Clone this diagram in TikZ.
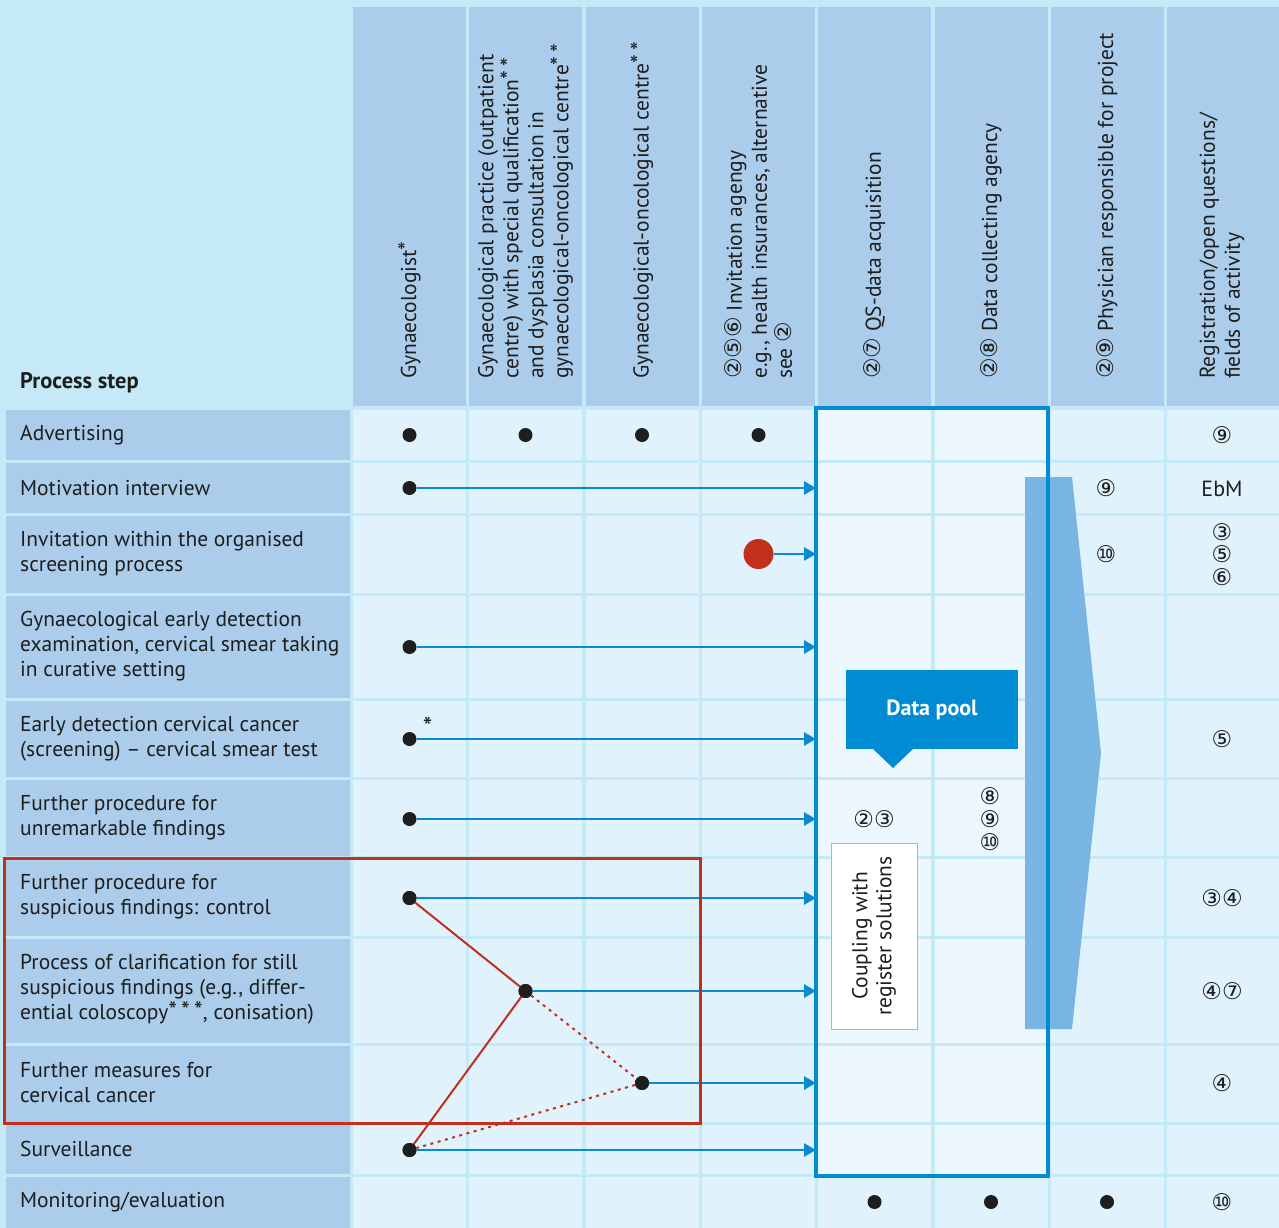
\documentclass[tikz,border=0pt]{standalone}
\usepackage{fontspec}
\setmainfont{PT Sans}
\newfontfamily\cfont{DejaVu Sans}
\usetikzlibrary{arrows.meta}
\definecolor{bgcyan}{HTML}{C6E9F8}
\definecolor{hdr}{HTML}{ABCDEB}
\definecolor{cellc}{HTML}{E0F2FC}
\definecolor{boxcell}{HTML}{EDF8FE}
\definecolor{boxblue}{HTML}{008BD2}
\definecolor{lineblue}{HTML}{0A8BD0}
\definecolor{redc}{HTML}{C0301C}
\definecolor{bigarr}{HTML}{79B5E3}
\definecolor{dark}{HTML}{1E1E1E}
\newcommand{\cn}[1]{{\cfont\fontsize{23}{23}\selectfont #1}}
\newcommand{\stars}[1]{{\fontsize{25}{25}\selectfont #1}}
\tikzset{
  hdrtxt/.style={rotate=90, anchor=west, align=left, inner sep=0pt, text=dark, font=\fontsize{21.5}{25}\selectfont},
  lbl/.style={anchor=west, align=left, inner sep=0pt, text=dark, font=\fontsize{21.5}{25}\selectfont},
  dot/.style={circle, fill=dark, inner sep=0pt, minimum size=14pt},
  reddot/.style={circle, fill=redc, inner sep=0pt, minimum size=30pt},
  arr/.style={draw=lineblue, line width=2.8pt, -{Triangle[length=12pt,width=13pt]}},
  redline/.style={draw=redc, line width=2pt},
  reddotted/.style={draw=redc, line width=2pt, dash pattern=on 3pt off 4.5pt},
  num/.style={inner sep=0pt, text=dark},
}
\begin{document}
\begin{tikzpicture}[x=1pt, y=-1pt]
\fill[bgcyan] (0,0) rectangle (1279,1228);
\useasboundingbox (0,0) rectangle (1279,1228);
% header cells
\foreach \i in {0,...,7} {
  \fill[hdr] ({353+116.3*\i},7) rectangle ({353+116.3*\i+113},406);
}
% rows
\foreach \t/\b in {410/460, 463/513, 516/593, 596/698, 701/777, 780/856, 859/936, 939/1043, 1046/1122, 1125/1174, 1177/1240} {
  \fill[hdr] (6,\t) rectangle (350,\b);
  \foreach \i in {0,...,7} {
    \fill[cellc] ({353+116.3*\i},\t) rectangle ({353+116.3*\i+113},\b);
  }
}
% box cells
\foreach \t/\b in {410/460, 463/513, 516/593, 596/698, 701/777, 780/856, 859/936, 939/1043, 1046/1122, 1125/1174} {
  \foreach \i in {4,5} {
    \fill[boxcell] ({353+116.3*\i},\t) rectangle ({353+116.3*\i+113},\b);
  }
}
\coordinate (bl) at (816,0);

% big arrow
\fill[bigarr] (1025,477) -- (1072,477) -- (1101,753) -- (1072,1029) -- (1025,1029) -- cycle;
% data box border
\draw[boxblue, line width=3.5pt] (816,408) rectangle (1048,1176);

% header texts
\node[font=\bfseries\fontsize{22.5}{25}\selectfont, text=dark, anchor=base west, inner sep=0pt] (ps) at (20,388) {Process step};
\node[hdrtxt] (h1) at (409.5,379) {Gynaecologist\stars{*}};
\node[hdrtxt] (h2) at (525.5,379) {Gynaecological practice (outpatient\\centre) with special qualification\stars{*\,*}\\and dysplasia consultation in\\gynaecological-oncological centre\stars{*\,*}};
\node[hdrtxt] (h3) at (642,379) {Gynaecological-oncological centre\stars{*\,*}};
\node[hdrtxt] (h4) at (758.5,379) {\cn{②⑤⑥} Invitation agengy\\e.g., health insurances, alternative\\see \cn{②}};
\node[hdrtxt] (h5) at (874.5,379) {\cn{②⑦} QS-data acquisition};
\node[hdrtxt] (h6) at (991,379) {\cn{②⑧} Data collecting agency};
\node[hdrtxt] (h7) at (1107,379) {\cn{②⑨} Physician responsible for project};
\node[hdrtxt] (h8) at (1222,379) {Registration/open questions/\\fields of activity};

% row labels
\node[lbl] (r1) at (20,435) {Advertising};
\node[lbl] (r2) at (20,488) {Motivation interview};
\node[lbl] (r3) at (20,554) {Invitation within the organised\\screening process};
\node[lbl] (r4) at (20,646) {Gynaecological early detection\\examination, cervical smear taking\\in curative setting};
\node[lbl] (r5) at (20,739) {Early detection cervical cancer\\(screening) -- cervical smear test};
\node[lbl] (r6) at (20,818) {Further procedure for\\unremarkable findings};
\node[lbl] (r7) at (20,897) {Further procedure for\\suspicious findings: control};
\node[lbl] (r8) at (20,989) {Process of clarification for still\\suspicious findings (e.g., differ-\\ential coloscopy\stars{*\,*\,*}, conisation)};
\node[lbl] (r9) at (20,1083) {Further measures for\\cervical cancer};
\node[lbl] (r10) at (20,1149) {Surveillance};
\node[lbl] (r11) at (20,1202) {Monitoring/evaluation};

% data pool
\node[fill=boxblue, minimum width=172pt, minimum height=79pt, inner sep=0pt, text=white, font=\bfseries\fontsize{22}{24}\selectfont] (pool) at (932,709.5) {Data pool};
\fill[boxblue] (872,748) -- (914,748) -- (893,768) -- cycle;

% coupling
\node[draw=hdr!80!boxblue, line width=1pt, fill=white, rotate=90, minimum width=186pt, minimum height=86pt, align=center, inner sep=0pt, text=dark, font=\fontsize{21.5}{24}\selectfont] (coup) at (874,936) {Coupling with\\register solutions};

% dots
\node[dot] (a1) at (409.5,435) {};
\node[dot] (a2) at (525.5,435) {};
\node[dot] (a3) at (642,435) {};
\node[dot] (a4) at (758.5,435) {};
\node[dot] (d2) at (409.5,488) {};
\node[reddot] (d3) at (758.5,554) {};
\node[dot] (d4) at (409.5,647) {};
\node[dot] (d5) at (409.5,739) {};
\node[dot] (d6) at (409.5,819) {};
\node[dot] (d7) at (409.5,898) {};
\node[dot] (d8) at (525.5,991) {};
\node[dot] (d9) at (642,1083) {};
\node[dot] (d10) at (409.5,1150) {};
\node[dot] (m1) at (874.5,1202) {};
\node[dot] (m2) at (991,1202) {};
\node[dot] (m3) at (1107,1202) {};
\node[num, anchor=base, font=\fontsize{27}{27}\selectfont] (ast) at (427.5,736) {*};

% blue arrows
\foreach \d in {d2,d3,d4,d5,d6,d7,d8,d9,d10} {
  \draw[arr] (\d) -- (\d -| bl);
}
% red lines
\draw[redline] (d7.center) -- (d8.center);
\draw[redline] (d8.center) -- (d10.center);
\draw[reddotted] (d8) -- (d9);
\draw[reddotted] (d9) -- (d10);
\foreach \d in {d7,d8,d9,d10} { \fill[dark] (\d) circle (7pt); }
% red frame
\draw[redc, line width=3pt] (4,858) rectangle (700,1123);

% circled numbers
\node[num] (n1) at (1222,435) {\cn{⑨}};
\node[num, font=\fontsize{22}{24}\selectfont] (n2) at (1222,489) {EbM};
\node[num] (n3a) at (1222,532) {\cn{③}};
\node[num] (n3b) at (1222,554) {\cn{⑤}};
\node[num] (n3c) at (1222,577) {\cn{⑥}};
\node[num] (n5) at (1222,739) {\cn{⑤}};
\node[num] (n7) at (1222,898) {\cn{③④}};
\node[num] (n8) at (1222,991) {\cn{④⑦}};
\node[num] (n9) at (1222,1083) {\cn{④}};
\node[num] (n11) at (1222,1202) {\cn{⑩}};
\node[num] (p2) at (1106,488) {\cn{⑨}};
\node[num] (p3) at (1106,554) {\cn{⑩}};
\node[num] (q1) at (990,796) {\cn{⑧}};
\node[num] (q2) at (990,819) {\cn{⑨}};
\node[num] (q3) at (990,842) {\cn{⑩}};
\node[num] (s6) at (874,819) {\cn{②③}};
\end{tikzpicture}
\end{document}
